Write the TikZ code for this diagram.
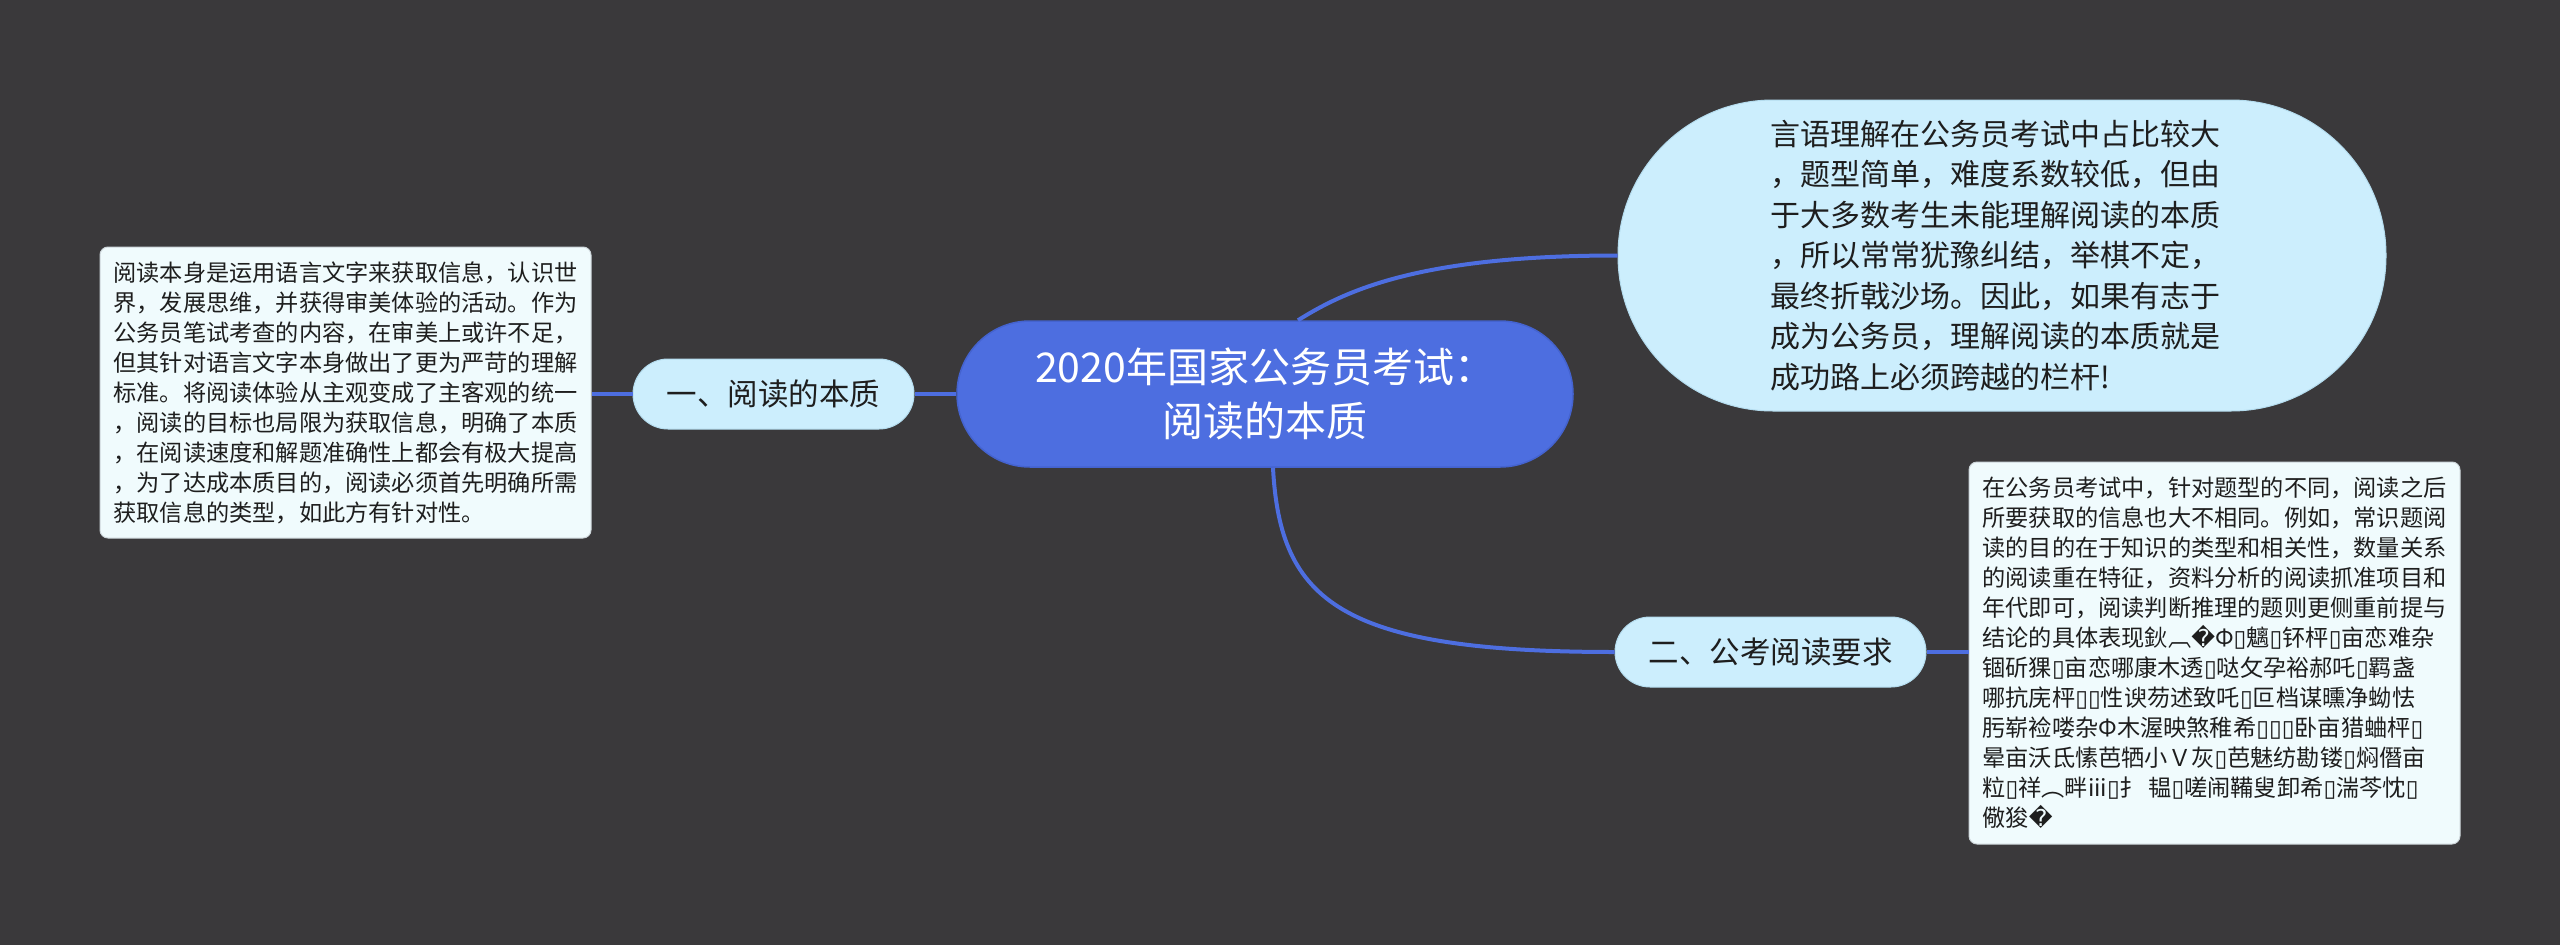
\documentclass[tikz,border=0pt]{standalone}
\usepackage{fontspec}
\setmainfont{Noto Sans CJK SC}
\newfontfamily\dvfont{DejaVu Sans}
\newcommand\tofu{{\dvfont\char"25AF}}
\newcommand\repl{{\dvfont\char"FFFD}}
\definecolor{bgc}{HTML}{3A393B}
\definecolor{cblue}{HTML}{4D6EE0}
\definecolor{cbluedark}{HTML}{4463CF}
\definecolor{clight}{HTML}{CCEEFD}
\definecolor{clightborder}{HTML}{B4DCEE}
\definecolor{cnote}{HTML}{F0FBFD}
\definecolor{cnoteborder}{HTML}{CDD6DA}
\definecolor{ctext}{HTML}{1E1E1E}
\tikzset{
  conn/.style={draw=cblue, line width=4pt},
  rootnode/.style={fill=cblue, draw=cbluedark, line width=1.5pt, rounded corners=73pt,
    minimum width=616pt, minimum height=146pt, text=white, align=center,
    font=\fontsize{41pt}{54pt}\selectfont},
  subnode/.style={fill=clight, draw=clightborder, line width=1pt, rounded corners=35pt,
    minimum height=70pt, text=ctext, font=\fontsize{30.5pt}{36pt}\selectfont},
  bignode/.style={fill=clight, draw=clightborder, line width=1pt, rounded corners=155pt,
    minimum width=768pt, minimum height=311pt, text=ctext, align=left,
    font=\fontsize{30pt}{40.5pt}\selectfont},
  notebox/.style={fill=cnote, draw=cnoteborder, line width=1pt, rounded corners=8pt,
    minimum width=491pt, text=ctext, align=left,
    font=\fontsize{23.2pt}{30pt}\selectfont}
}
\begin{document}
\begin{tikzpicture}[x=1pt, y=-1pt]
\useasboundingbox (0,0) rectangle (2560,945);
\fill[bgc] (0,0) rectangle (2560,945);

\node[rootnode] (root) at (1265,394) {2020年国家公务员考试：\\阅读的本质};
\node[subnode, minimum width=281pt] (n1) at (773.5,394) {一、阅读的本质};
\node[subnode, minimum width=311pt] (n2) at (1770.5,652) {二、公考阅读要求};
\node[bignode] (top) at (2002,255.5) {言语理解在公务员考试中占比较大\hspace*{14pt}\\，题型简单，难度系数较低，但由\\于大多数考生未能理解阅读的本质\\，所以常常犹豫纠结，举棋不定，\\最终折戟沙场。因此，如果有志于\\成为公务员，理解阅读的本质就是\\成功路上必须跨越的栏杆!};

\node[notebox, minimum height=291pt] (lbox) at (345.5,392.5) {阅读本身是运用语言文字来获取信息，认识世\\界，发展思维，并获得审美体验的活动。作为\\公务员笔试考查的内容，在审美上或许不足，\\但其针对语言文字本身做出了更为严苛的理解\\标准。将阅读体验从主观变成了主客观的统一\\，阅读的目标也局限为获取信息，明确了本质\\，在阅读速度和解题准确性上都会有极大提高\\，为了达成本质目的，阅读必须首先明确所需\\获取信息的类型，如此方有针对性。};

\node[notebox, minimum height=382pt] (rbox) at (2214.5,653) {在公务员考试中，针对题型的不同，阅读之后\\所要获取的信息也大不相同。例如，常识题阅\\读的目的在于知识的类型和相关性，数量关系\\的阅读重在特征，资料分析的阅读抓准项目和\\年代即可，阅读判断推理的题则更侧重前提与\\结论的具体表现鈥︹\repl Φ\tofu 魑\tofu 钚枰\tofu 亩恋难杂\\锢斫猓\tofu 亩恋哪康木透\tofu 哒攵孕裕郝吒\tofu 羁盏\\哪抗庑枰\tofu\tofu 性谀芴述致吒\tofu 叵档谋曛净蚴怯\\肟崭裣喽杂Φ木渥映煞稚希\tofu\tofu\tofu 卧亩猎蛐枰\tofu\\晕亩沃氐愫芭牺小Ｖ灰\tofu 芭魅纺勘镂\tofu 焖僭亩\\粒\tofu 祥︵畔iii\tofu 扌 韫\tofu 嗟闹鞴叟卸希\tofu 湍芩忱\tofu\\儆狻\repl};

\draw[conn] (root.west) -- (n1.east);
\draw[conn] (n1.west) -- (n1.west -| lbox.east);
\draw[conn] (n2.east) -- (n2.east -| rbox.west);
\draw[conn] ([xshift=33pt]root.north) .. controls +(48,-30) and +(-198,0) .. (top.west);
\draw[conn] ([xshift=8pt]root.south) .. controls +(7,133) and +(-275,0) .. (n2.west);
\end{tikzpicture}
\end{document}
